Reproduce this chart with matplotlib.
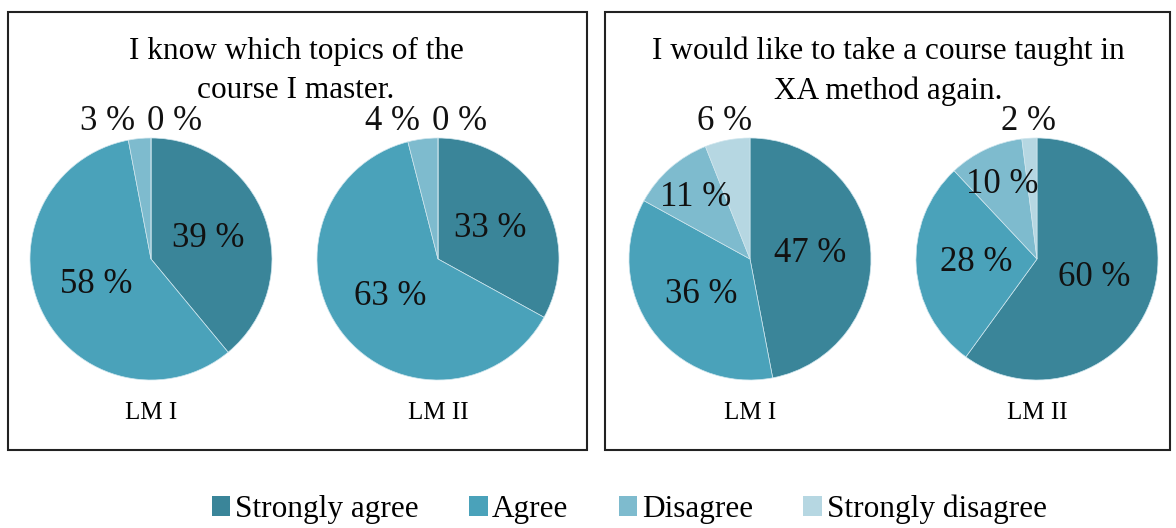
import numpy as np
import matplotlib.pyplot as plt
from matplotlib.patches import Rectangle, Patch

plt.rcParams['font.family'] = ['Liberation Serif', 'DejaVu Serif']

categories = ["Strongly agree", "Agree", "Disagree", "Strongly disagree"]
colors = ["#3A8599", "#4AA2BA", "#7EBBCE", "#B6D7E2"]

titles = ["I know which topics of the\ncourse I master.",
          "I would like to take a course taught in\nXA method again."]
groups = ["LM I", "LM II"]

know_lm1 = [39, 58, 3, 0]
know_lm2 = [33, 63, 4, 0]
again_lm1 = [47, 36, 11, 6]
again_lm2 = [60, 28, 10, 2]

W, H = 1176, 528
fig = plt.figure(figsize=(W / 100, H / 100), dpi=100)

# panel frames
for x0, x1 in [(8, 587), (605, 1170)]:
    fig.add_artist(Rectangle((x0 / W, 1 - 450 / H), (x1 - x0) / W, (450 - 12) / H,
                             transform=fig.transFigure, fill=False,
                             edgecolor="#222222", linewidth=1.5))

fig.text(296 / W, 1 - 71 / H, titles[0], ha="center", va="center",
         fontsize=22.5, linespacing=1.45)
fig.text(888 / W, 1 - 71 / H, titles[1], ha="center", va="center",
         fontsize=22.5, linespacing=1.45)

pies = [(know_lm1, 151, groups[0]), (know_lm2, 438, groups[1]),
        (again_lm1, 750, groups[0]), (again_lm2, 1037, groups[1])]
r_px = 121

for vals, cx, grp in pies:
    ax = fig.add_axes([(cx - r_px) / W, 1 - (259 + r_px) / H, 2 * r_px / W, 2 * r_px / H])
    wedges, _ = ax.pie(vals, colors=colors, startangle=90, counterclock=False,
                       wedgeprops=dict(linewidth=0.5, edgecolor="#cfe6ee"))
    ax.set_xlim(-1, 1)
    ax.set_ylim(-1, 1)
    ax.set_aspect("equal")
    ax.axis("off")

    small = []
    for w, v in zip(wedges, vals):
        mid = np.deg2rad((w.theta1 + w.theta2) / 2)
        if v < 8:
            small.append([np.cos(mid) * 1.1, v])
            continue
        r = 0.5 if v >= 20 else 0.68
        ax.text(r * np.cos(mid), r * np.sin(mid), f"{v} %", ha="center", va="center",
                fontsize=25, color="#111111")
    # labels for thin slices sit above the pie, pushed apart if needed
    small.sort(key=lambda s: s[0])
    if len(small) == 2 and small[1][0] - small[0][0] < 0.55:
        c = (small[0][0] + small[1][0]) / 2
        small[0][0], small[1][0] = c - 0.31, c + 0.25
    for x, v in small:
        ax.text(x, 1.14, f"{v} %", ha="center", va="center", fontsize=25,
                color="#111111", clip_on=False)

    fig.text(cx / W, 1 - 413 / H, grp, ha="center", va="center", fontsize=18)

handles = [Patch(facecolor=c, edgecolor="none") for c in colors]
fig.legend(handles, categories, loc="center", bbox_to_anchor=(0.535, 0.036),
           ncol=4, frameon=False, fontsize=22.5, handlelength=0.6, handleheight=0.6,
           handletextpad=0.15, columnspacing=1.6)

fig.savefig("out.png", dpi=100)
